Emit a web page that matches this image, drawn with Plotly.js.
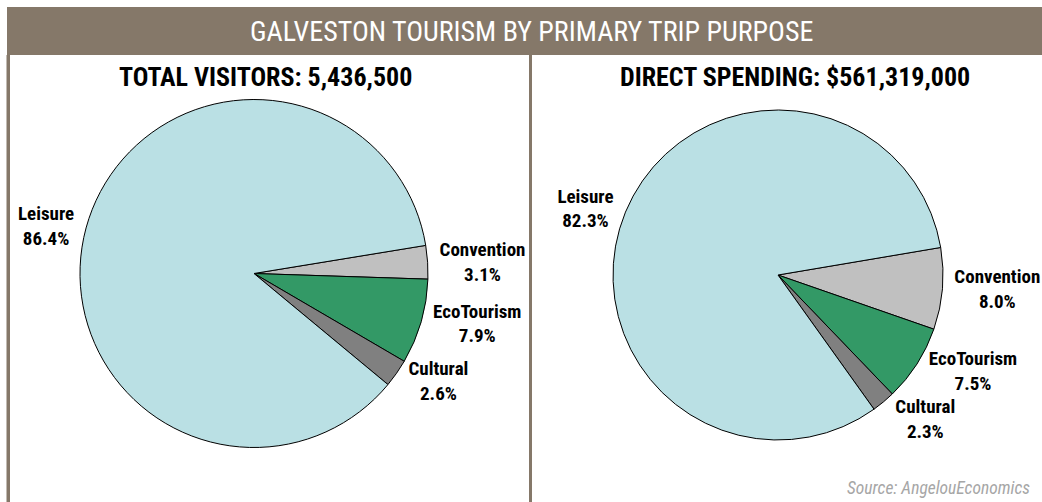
<!DOCTYPE html>
<html>
<head>
<meta charset="utf-8">
<script src="https://cdn.plot.ly/plotly-3.0.1.min.js"></script>
<style>
  html, body { margin: 0; padding: 0; background: #ffffff; }
  #chart { width: 1042px; height: 502px; }
  #chart path.textline { display: none; }
</style>
</head>
<body>
<div id="chart"></div>
<script>
// ---- data ----
const categories = ["Convention", "EcoTourism", "Cultural", "Leisure"];
const visitorsShare = [3.1, 7.9, 2.6, 86.4];
const spendingShare = [8.0, 7.5, 2.3, 82.3];
const sliceColors = ["#c0c0c0", "#339966", "#808080", "#bae0e4"];
const mainTitle = "GALVESTON TOURISM BY PRIMARY TRIP PURPOSE";
const leftTitle = "TOTAL VISITORS: 5,436,500";
const rightTitle = "DIRECT SPENDING: $561,319,000";
const sourceText = "Source: AngelouEconomics";

const FONT = "'Liberation Sans Narrow', 'Arial Narrow', 'Roboto Condensed', 'Liberation Sans', Arial, sans-serif";
const W = 1042, H = 502;
const frame = "#857869";

function pieTrace(vals, cx, cy, r, rot) {
  return {
    type: "pie",
    labels: categories,
    values: vals,
    sort: false,
    direction: "clockwise",
    rotation: rot,
    marker: { colors: sliceColors, line: { color: "#000000", width: 1 } },
    texttemplate: "%{label}<br>%{value:.1f}%",
    textposition: "outside",
    outsidetextfont: { family: FONT, size: 19, color: "#000000", weight: "bold" },
    hoverinfo: "skip",
    showlegend: false,
    automargin: false,
    domain: {
      x: [(cx - r) / W, (cx + r) / W],
      y: [(H - cy - r) / H, (H - cy + r) / H]
    }
  };
}

const data = [
  pieTrace(visitorsShare, 254, 273.5, 174, 80.7),
  pieTrace(spendingShare, 778, 275, 165, 80.4)
];

const layout = {
  width: W, height: H,
  margin: { l: 0, r: 0, t: 0, b: 0 },
  paper_bgcolor: "#ffffff",
  font: { family: FONT },
  shapes: [
    { type: "rect", xref: "paper", yref: "paper", x0: 7 / W, x1: 1, y0: 1 - 55 / H, y1: 1 - 7 / H,
      fillcolor: frame, line: { width: 0 }, layer: "below" },
    { type: "rect", xref: "paper", yref: "paper", x0: 6.5 / W, x1: 10 / W, y0: 0, y1: 1 - 55 / H,
      fillcolor: frame, line: { width: 0 } },
    { type: "rect", xref: "paper", yref: "paper", x0: 529 / W, x1: 532 / W, y0: 0, y1: 1 - 55 / H,
      fillcolor: frame, line: { width: 0 } }
  ],
  annotations: [
    { text: mainTitle, xref: "paper", yref: "paper", x: 531 / W, y: 1 - 32 / H,
      xanchor: "center", yanchor: "middle", showarrow: false,
      font: { family: FONT, size: 28, color: "#ffffff" } },
    { text: "<b>" + leftTitle + "</b>", xref: "paper", yref: "paper", x: 265 / W, y: 1 - 77 / H,
      xanchor: "center", yanchor: "middle", showarrow: false,
      font: { family: FONT, size: 26, color: "#000000" } },
    { text: "<b>" + rightTitle + "</b>", xref: "paper", yref: "paper", x: 795 / W, y: 1 - 77 / H,
      xanchor: "center", yanchor: "middle", showarrow: false,
      font: { family: FONT, size: 26, color: "#000000" } },
    { text: "<i>" + sourceText + "</i>", xref: "paper", yref: "paper", x: 1032 / W, y: 1 - 488 / H,
      xanchor: "right", yanchor: "middle", showarrow: false,
      font: { family: FONT, size: 17.5, color: "#a6a6a6" } }
  ]
};

Plotly.newPlot("chart", data, layout, { displayModeBar: false, staticPlot: true });
</script>
</body>
</html>
